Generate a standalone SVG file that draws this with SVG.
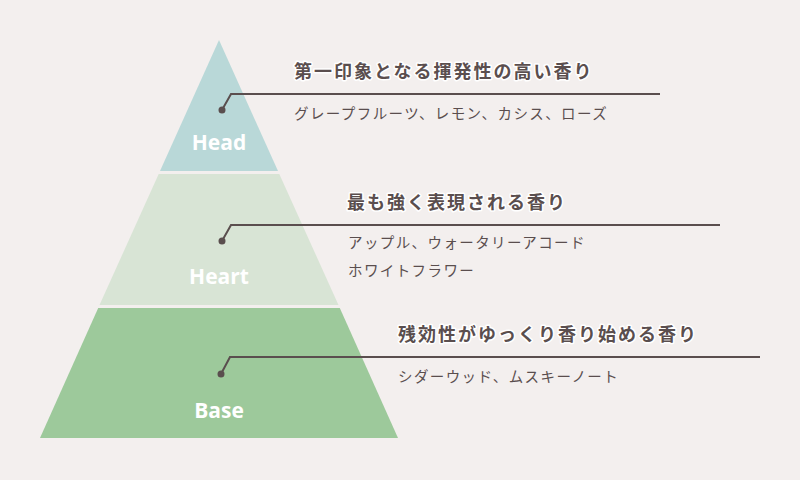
<svg xmlns="http://www.w3.org/2000/svg" width="800" height="480" viewBox="0 0 800 480">
<style>
.t{font-family:"Noto Sans CJK JP",sans-serif;font-weight:bold;font-size:18px;letter-spacing:2px;fill:#5a4e4e;stroke:#fff;stroke-width:3;paint-order:stroke;stroke-linejoin:round}
.s{font-family:"Noto Sans CJK JP",sans-serif;font-size:14.5px;letter-spacing:1.4px;fill:#5a4e4e}
.l{font-family:"Open Sans","DejaVu Sans",sans-serif;font-weight:bold;font-size:21px;fill:#fff;text-anchor:middle}
.c{fill:none;stroke:#5a4e4e;stroke-width:2}
</style>
<rect width="800" height="480" fill="#f3efee"/>
<g id="head"><polygon points="219,40 278,171 160,171" fill="#b9d8d8"/><text class="l" x="219" y="150">Head</text></g>
<g id="heart"><polygon points="158.7,174 279.3,174 338.5,305 99.5,305" fill="#d8e4d5"/><text class="l" x="219" y="284">Heart</text></g>
<g id="base"><polygon points="98.2,308 339.8,308 398,438 40,438" fill="#9dc99b"/><text class="l" x="219" y="418">Base</text></g>
<g id="connectors">
<polyline class="c" points="222,110 231,94 660,94"/><circle cx="222" cy="110" r="3.5" fill="#5a4e4e"/>
<polyline class="c" points="222,241 231,225 720,225"/><circle cx="222" cy="241" r="3.5" fill="#5a4e4e"/>
<polyline class="c" points="221,374 230,357 760,357"/><circle cx="221" cy="374" r="3.5" fill="#5a4e4e"/>
</g>
<g id="labels">
<text class="t" x="294" y="78">第一印象となる揮発性の高い香り</text>
<text class="s" x="294" y="119">グレープフルーツ、レモン、カシス、ローズ</text>
<text class="t" x="347" y="209">最も強く表現される香り</text>
<text class="s" x="348" y="248">アップル、ウォータリーアコード</text>
<text class="s" x="348" y="276">ホワイトフラワー</text>
<text class="t" x="398" y="341">残効性がゆっくり香り始める香り</text>
<text class="s" x="398" y="382">シダーウッド、ムスキーノート</text>
</g>
</svg>
